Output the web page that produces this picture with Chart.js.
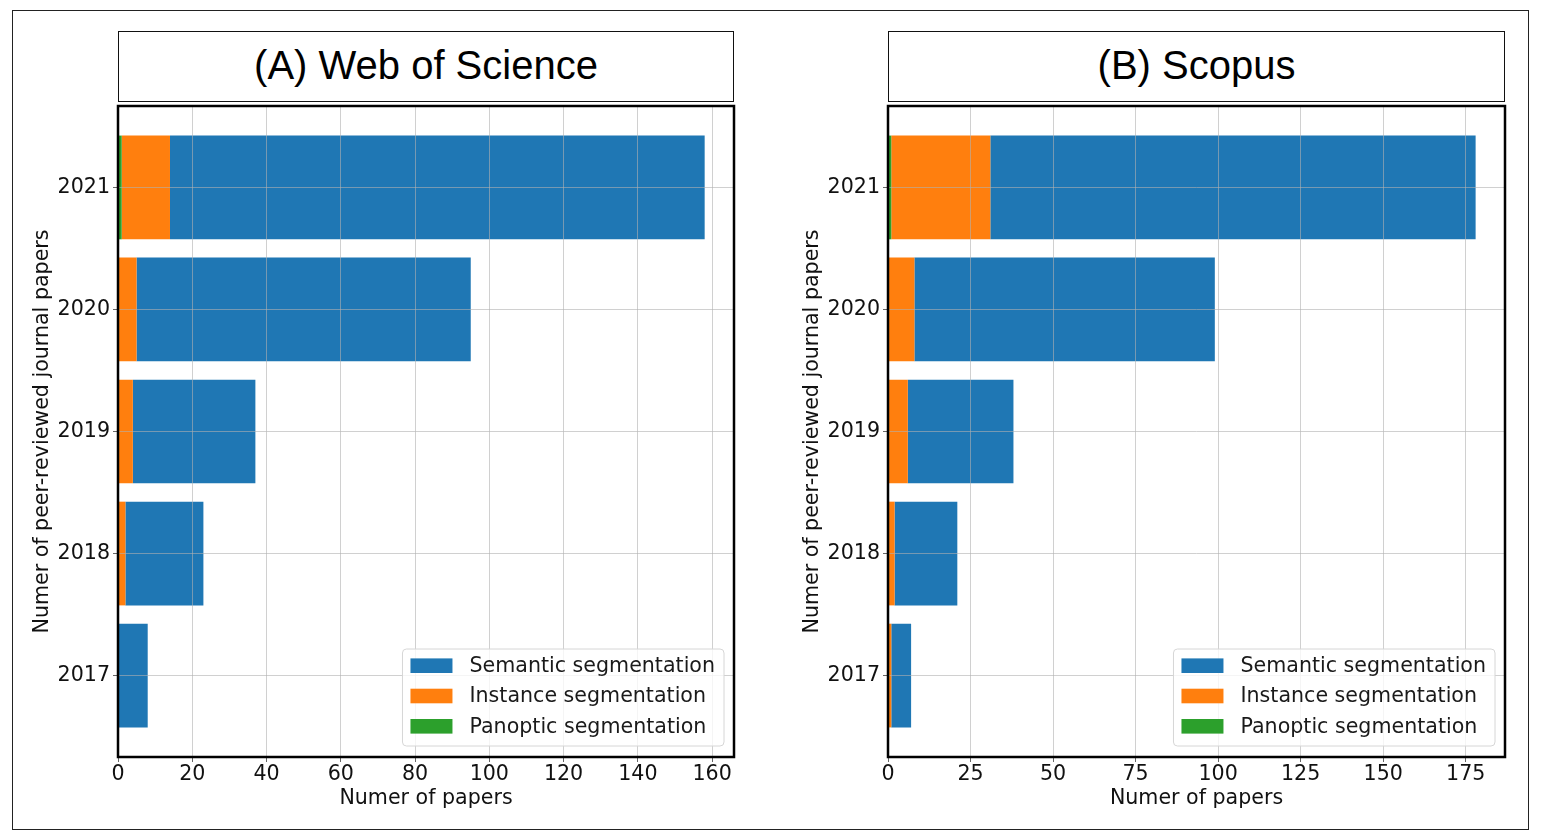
<!DOCTYPE html>
<html>
<head>
<meta charset="utf-8">
<script src="https://cdn.jsdelivr.net/npm/chart.js@4.4.1/dist/chart.umd.min.js"></script>
<style>
  body { margin: 0; background: #fff; width: 1541px; height: 840px; position: relative; overflow: hidden; }
  .frame { position: absolute; left: 12px; top: 10px; width: 1517px; height: 820px; border: 1.5px solid #222; box-sizing: border-box; }
  .title { position: absolute; top: 31px; height: 71px; border: 1.5px solid #111; box-sizing: border-box;
           display: flex; align-items: center; justify-content: center;
           font-family: "Liberation Sans", Arial, sans-serif; font-size: 40px; color: #000; padding-bottom: 3px; }
  .panel { position: absolute; top: 96px; height: 724px; }
</style>
</head>
<body>
<div class="frame"></div>
<div class="title" style="left:118px;width:616px;">(A) Web of Science</div>
<div class="title" style="left:888px;width:617px;">(B) Scopus</div>
<div class="panel" style="left:20px;width:730px;"><canvas id="wos"></canvas></div>
<div class="panel" style="left:790px;width:731px;"><canvas id="scopus"></canvas></div>
<script>
const years = [2021, 2020, 2019, 2018, 2017];
const seriesNames = ['Semantic segmentation', 'Instance segmentation', 'Panoptic segmentation'];
const seriesColors = ['#1f77b4', '#ff7f0e', '#2ca02c'];

const wosSemantic = [144, 90, 33, 21, 8];
const wosInstance = [13, 5, 4, 2, 0];
const wosPanoptic = [1, 0, 0, 0, 0];
const wosTicks = [0, 20, 40, 60, 80, 100, 120, 140, 160];

const scopusSemantic = [147, 91, 32, 19, 6];
const scopusInstance = [30, 8, 6, 2, 1];
const scopusPanoptic = [1, 0, 0, 0, 0];
const scopusTicks = [0, 25, 50, 75, 100, 125, 150, 175];

const fontSize = 20.6;
Chart.defaults.font.family = '"DejaVu Sans", sans-serif';
Chart.defaults.font.size = fontSize;
Chart.defaults.color = '#111';

const gridColor = 'rgba(176,176,176,0.6)';
const barHeight = 0.85;

// black box round the axes, matplotlib style
const framePlugin = {
  id: 'frame',
  afterDraw(chart) {
    const {ctx, chartArea: a} = chart;
    ctx.save();
    ctx.strokeStyle = '#000';
    ctx.lineWidth = 2.5;
    ctx.strokeRect(a.left, a.top, a.right - a.left, a.bottom - a.top);
    ctx.restore();
  }
};

// legend inside the plot, lower right
const innerLegend = {
  id: 'innerLegend',
  afterDraw(chart) {
    const {ctx, chartArea: a} = chart;
    const items = chart.data.datasets.slice().reverse();
    ctx.save();
    ctx.font = fontSize + 'px "DejaVu Sans"';
    let tw = 0;
    items.forEach(d => { tw = Math.max(tw, ctx.measureText(d.label).width); });
    const padL = 8, hw = 42, hh = 14.6, gap = 17, padR = 9, rowH = 30.3, padT = 16.7, padB = 19.7;
    const w = padL + hw + gap + tw + padR;
    const h = padT + rowH * (items.length - 1) + padB;
    const x = a.right - 10 - w;
    const y = a.bottom - 11 - h;
    ctx.beginPath();
    ctx.roundRect(x, y, w, h, 4);
    ctx.fillStyle = 'rgba(255,255,255,0.8)';
    ctx.fill();
    ctx.strokeStyle = '#d6d6d6';
    ctx.lineWidth = 1;
    ctx.stroke();
    items.forEach((d, i) => {
      const cy = y + padT + i * rowH;
      ctx.fillStyle = d.backgroundColor;
      ctx.fillRect(x + padL, cy - hh / 2, hw, hh);
      ctx.fillStyle = '#1a1a1a';
      ctx.textBaseline = 'middle';
      ctx.fillText(d.label, x + padL + hw + gap, cy + 1);
    });
    ctx.restore();
  }
};

function makeChart(id, semantic, instance, panoptic, ticks) {
  const totals = semantic.map((v, i) => v + instance[i] + panoptic[i]);
  const xMax = Math.max(...totals) * 1.05;
  const yPad = barHeight / 2 + 0.05 * (years.length - 1 + barHeight);
  new Chart(document.getElementById(id), {
    type: 'bar',
    data: {
      labels: years,
      datasets: [
        {label: seriesNames[2], data: panoptic, backgroundColor: seriesColors[2]},
        {label: seriesNames[1], data: instance, backgroundColor: seriesColors[1]},
        {label: seriesNames[0], data: semantic, backgroundColor: seriesColors[0]}
      ]
    },
    options: {
      indexAxis: 'y',
      responsive: true,
      maintainAspectRatio: false,
      animation: false,
      layout: {padding: {top: 10, right: 16, left: 0, bottom: 0}},
      datasets: {bar: {categoryPercentage: 1, barPercentage: barHeight, borderWidth: 0}},
      plugins: {legend: {display: false}, tooltip: {enabled: false}},
      scales: {
        x: {
          type: 'linear',
          stacked: true,
          min: 0,
          max: xMax,
          afterFit: s => { s.height = 63; s.paddingLeft = 0; s.paddingRight = 0; },
          afterBuildTicks: s => { s.ticks = ticks.filter(v => v <= xMax).map(v => ({value: v})); },
          ticks: {padding: 0, color: '#111', maxRotation: 0},
          grid: {color: gridColor, lineWidth: 1, z: 1, tickLength: 5, tickColor: '#666'},
          border: {display: false},
          title: {display: true, text: 'Numer of papers', color: '#111', padding: {top: 0, bottom: 9}}
        },
        y: {
          type: 'linear',
          stacked: true,
          offset: false,
          min: years[years.length - 1] - yPad,
          max: years[0] + yPad,
          afterFit: s => { s.width = 98; s.paddingTop = 0; s.paddingBottom = 0; },
          afterBuildTicks: s => { s.ticks = years.map(v => ({value: v})); },
          ticks: {callback: v => String(v), padding: 3, color: '#111'},
          grid: {offset: false, color: gridColor, lineWidth: 1, z: 1, tickLength: 5, tickColor: '#666'},
          border: {display: false},
          title: {display: true, text: 'Numer of peer-reviewed journal papers', color: '#111', padding: {top: 10, bottom: 0}}
        }
      }
    },
    plugins: [framePlugin, innerLegend]
  });
}

makeChart('wos', wosSemantic, wosInstance, wosPanoptic, wosTicks);
makeChart('scopus', scopusSemantic, scopusInstance, scopusPanoptic, scopusTicks);
</script>
</body>
</html>
